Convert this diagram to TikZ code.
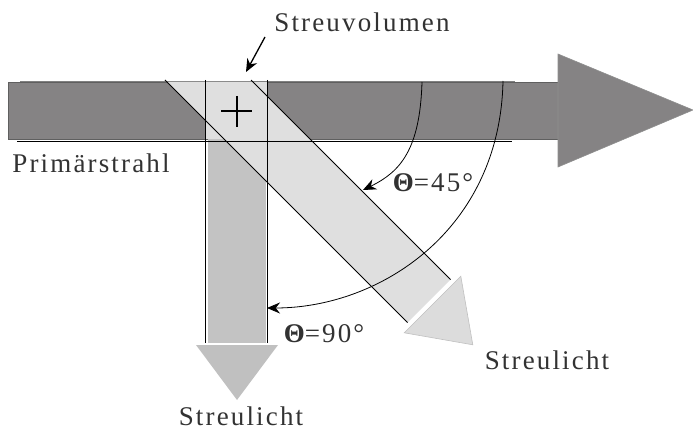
\documentclass[tikz,border=0pt]{standalone}
\usepackage{fontspec}
\setmainfont{Liberation Serif}[LetterSpace=8.0]
\usetikzlibrary{arrows.meta}
\definecolor{beam}{RGB}{133,131,132}
\definecolor{beamedge}{RGB}{95,95,95}
\definecolor{lightg}{RGB}{223,223,223}
\definecolor{midg}{RGB}{195,195,195}
\definecolor{headg}{RGB}{192,192,192}
\definecolor{diagg}{RGB}{220,220,220}
\definecolor{txt}{RGB}{50,50,50}
\tikzset{
  lbl/.style={inner sep=0pt, anchor=base, text=txt, font=\fontsize{27}{30}\selectfont},
  thinline/.style={draw=black, line width=0.9pt},
  arcline/.style={draw=black, line width=0.8pt, -{Stealth[length=13pt,width=11pt]}},
}
\begin{document}
\begin{tikzpicture}[x=1pt,y=-1pt]
\useasboundingbox (0,0) rectangle (693,430);
% primary beam
\fill[beam, draw=beamedge, line width=0.8pt] (8,82) rectangle (558,139);
\fill[beam, draw=beamedge!70, line width=0.6pt] (558,54) -- (693,110) -- (558,167) -- cycle;
\draw[gray, line width=0.9pt] (20,81) -- (515,81);
% vertical scattered band
\fill[midg] (207.5,139) rectangle (265.5,343);
% diagonal scattered band
\fill[lightg] (167,82) -- (253,82) -- (450.5,279.5) -- (407.5,322.5) -- cycle;
% scattering volume
\fill[lightg] (206,82) rectangle (267,139);
\draw[thinline] (17,141) -- (512,141);
% border lines
\draw[thinline] (205.5,80) -- (205.5,343);
\draw[thinline] (267,80) -- (267,343);
\draw[thinline] (165,80) -- (407.5,322.5);
\draw[thinline] (251,80) -- (450.5,279.5);
% arrow heads
\fill[headg] (196,345) -- (278,345) -- (237,400) -- cycle;
\fill[diagg, draw=headg, line width=0.6pt] (404.2,332.8) -- (460.8,276.2) -- (472.8,344.8) -- cycle;
% cross
\draw[black, line width=1.6pt] (221,111) -- (252,111) (237,96) -- (237,127);
% labels
\node[lbl] (sv) at (362,32) {Streuvolumen};
\node[lbl] (ps) at (91,173) {Primärstrahl};
\node[lbl] (t45) at (433,192) {{\bfseries Θ}=45°};
\node[lbl] (t90) at (324,342) {{\bfseries Θ}=90°};
\node[lbl] (sl1) at (547,369) {Streulicht};
\node[lbl] (sl2) at (241,425) {Streulicht};
% pointer to scattering volume
\coordinate (svs) at (265,37);
\coordinate (svt) at (246,72);
\draw[black, line width=1.3pt, -{Stealth[length=13pt,width=11pt]}] (svs) -- (svt);
% angle arcs
\coordinate (a45s) at (422,82);
\coordinate (a45e) at (363,190);
\coordinate (a90s) at (503,81);
\coordinate (a90e) at (267,308);
\draw[arcline] (a45s) .. controls (420,150) and (400,172) .. (a45e);
\draw[arcline] (a90s) .. controls (500,230) and (380,308) .. (a90e);
\end{tikzpicture}
\end{document}
